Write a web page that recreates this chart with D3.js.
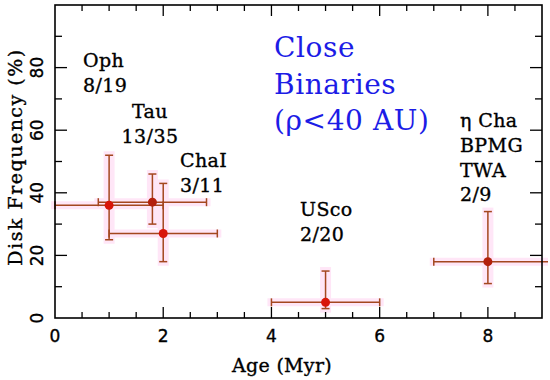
<!DOCTYPE html>
<html><head><meta charset="utf-8">
<script src="https://cdn.jsdelivr.net/npm/d3@7"></script>
<style>body{margin:0;background:#fff}svg{display:block}</style>
</head><body>
<script>
// Data
const groups = ["Oph", "Tau", "ChaI", "USco", "etaCha"];
const ages = [1, 1.8, 2, 5, 8];
const ageLo = [0, 0.8, 1, 4, 7];
const ageHi = [2, 2.8, 3, 6, 9.6];
const freq = [36, 37, 27, 5, 18];
const freqLo = [25, 30, 18, 3, 11];
const freqHi = [52, 46, 43, 15, 34];
const xTicks = [0, 2, 4, 6, 8];
const yTicks = [0, 20, 40, 60, 80];

const W = 550, H = 380;
const m = {l: 55, r: 8, t: 5, b: 62};
const svg = d3.select("body").append("svg").attr("width", W).attr("height", H);
const x = d3.scaleLinear().domain([0, 9]).range([m.l, W - m.r]);
const y = d3.scaleLinear().domain([0, 100]).range([H - m.b, m.t]);

const clipId = "plotclip";
svg.append("clipPath").attr("id", clipId).append("rect")
  .attr("x", m.l - 6).attr("y", m.t).attr("width", W - m.r - m.l + 12).attr("height", H - m.b - m.t);

const pts = groups.map((g, i) => ({g, x: ages[i], xl: ageLo[i], xh: ageHi[i], y: freq[i], yl: freqLo[i], yh: freqHi[i], dark: (i === 1 || i === 4)}));

const gp = svg.append("g").attr("clip-path", `url(#${clipId})`);
const pink = "#ffe6f7";
// glow
gp.selectAll(".gh").data(pts).join("line")
  .attr("x1", d => x(d.xl) - 4).attr("x2", d => x(d.xh) + 4)
  .attr("y1", d => y(d.y)).attr("y2", d => y(d.y))
  .attr("stroke", pink).attr("stroke-width", 8);
gp.selectAll(".gv").data(pts).join("line")
  .attr("x1", d => x(d.x)).attr("x2", d => x(d.x))
  .attr("y1", d => y(d.yl) + 4).attr("y2", d => y(d.yh) - 4)
  .attr("stroke", pink).attr("stroke-width", 11);

const ebc = "#a4471f";
const cap = 4;
gp.selectAll(".eh").data(pts).join("line")
  .attr("x1", d => x(d.xl)).attr("x2", d => x(d.xh))
  .attr("y1", d => y(d.y)).attr("y2", d => y(d.y))
  .attr("stroke", ebc).attr("stroke-width", 1.5);
gp.selectAll(".ev").data(pts).join("line")
  .attr("x1", d => x(d.x)).attr("x2", d => x(d.x))
  .attr("y1", d => y(d.yl)).attr("y2", d => y(d.yh))
  .attr("stroke", ebc).attr("stroke-width", 1.5);
// caps
pts.forEach(d => {
  [d.yl, d.yh].forEach(v => gp.append("line")
    .attr("x1", x(d.x) - cap).attr("x2", x(d.x) + cap).attr("y1", y(v)).attr("y2", y(v))
    .attr("stroke", ebc).attr("stroke-width", 1.5));
  [d.xl, d.xh].forEach(v => gp.append("line")
    .attr("x1", x(v)).attr("x2", x(v)).attr("y1", y(d.y) - cap).attr("y2", y(d.y) + cap)
    .attr("stroke", ebc).attr("stroke-width", 1.5));
});
gp.selectAll(".pt").data(pts).join("circle")
  .attr("cx", d => x(d.x)).attr("cy", d => y(d.y)).attr("r", 4.5)
  .attr("fill", d => d.dark ? "#b3200c" : "#d8150a");

// frame & ticks
const axc = "#000";
const fr = svg.append("g");
fr.append("rect").attr("x", m.l).attr("y", m.t).attr("width", W - m.r - m.l).attr("height", H - m.b - m.t)
  .attr("fill", "none").attr("stroke", axc).attr("stroke-width", 1.6);
const xMinor = d3.range(0.5, 9, 0.5).filter(v => v % 2 !== 0);
const yMinor = d3.range(10, 100, 10).filter(v => v % 20 !== 0);
const tickLine = (x1, y1, x2, y2) => fr.append("line").attr("x1", x1).attr("y1", y1).attr("x2", x2).attr("y2", y2).attr("stroke", axc).attr("stroke-width", 1.3);
xTicks.forEach(v => { if (v > 0) { tickLine(x(v), y(0), x(v), y(0) - 11); tickLine(x(v), y(100), x(v), y(100) + 11); } });
xMinor.forEach(v => { tickLine(x(v), y(0), x(v), y(0) - 6); tickLine(x(v), y(100), x(v), y(100) + 6); });
yTicks.forEach(v => { if (v > 0) { tickLine(x(0), y(v), x(0) + 12, y(v)); tickLine(x(9), y(v), x(9) - 12, y(v)); } });
yMinor.forEach(v => { tickLine(x(0), y(v), x(0) + 7, y(v)); tickLine(x(9), y(v), x(9) - 7, y(v)); });

// tick labels
const tf = "DejaVu Sans";
const heavy = s => s.attr("stroke", "#000").attr("stroke-width", 0.35);
svg.append("g").call(heavy).selectAll("text").data(xTicks).join("text")
  .attr("x", d => x(d)).attr("y", 342).attr("text-anchor", "middle")
  .attr("font-family", tf).attr("font-size", 17).text(d => d);
svg.append("g").call(heavy).selectAll("text").data(yTicks).join("text")
  .attr("transform", d => `translate(43,${y(d)}) rotate(-90)`).attr("text-anchor", "middle")
  .attr("font-family", tf).attr("font-size", 17).text(d => d);

// axis titles
const sf = "DejaVu Serif";
svg.append("text").call(heavy).attr("x", 282).attr("y", 372).attr("text-anchor", "middle")
  .attr("font-family", sf).attr("font-size", 19).attr("letter-spacing", 0.3).text("Age (Myr)");
svg.append("text").call(heavy).attr("transform", "translate(22,157) rotate(-90)").attr("text-anchor", "middle")
  .attr("font-family", sf).attr("font-size", 19).attr("letter-spacing", 1.5).text("Disk Frequency (%)");

// annotations
const ann = [
  {t: ["Oph", "8/19"], x: 83, y: 67, a: "start"},
  {t: ["Tau", "13/35"], x: 150, y: 118, a: "middle"},
  {t: ["ChaI", "3/11"], x: 180, y: 167, a: "start"},
  {t: ["USco", "2/20"], x: 300, y: 216, a: "start"},
  {t: ["\u03b7 Cha", "BPMG", "TWA", "2/9"], x: 460, y: 127, a: "start"}
];
ann.forEach(a => {
  const t = svg.append("text").call(heavy).attr("font-family", sf).attr("font-size", 19).attr("letter-spacing", 0.4).attr("text-anchor", a.a);
  a.t.forEach((s, i) => t.append("tspan").attr("x", a.x).attr("y", a.y + i * 24.8).text(s));
});
const title = ["Close", "Binaries", "(\u03c1<40 AU)"];
const tt = svg.append("text").attr("font-family", sf).attr("font-size", 28).attr("fill", "#1c1ce6").attr("letter-spacing", 0.6);
title.forEach((s, i) => tt.append("tspan").attr("x", 274).attr("y", 57 + i * 36.5).text(s));
</script>
</body></html>
